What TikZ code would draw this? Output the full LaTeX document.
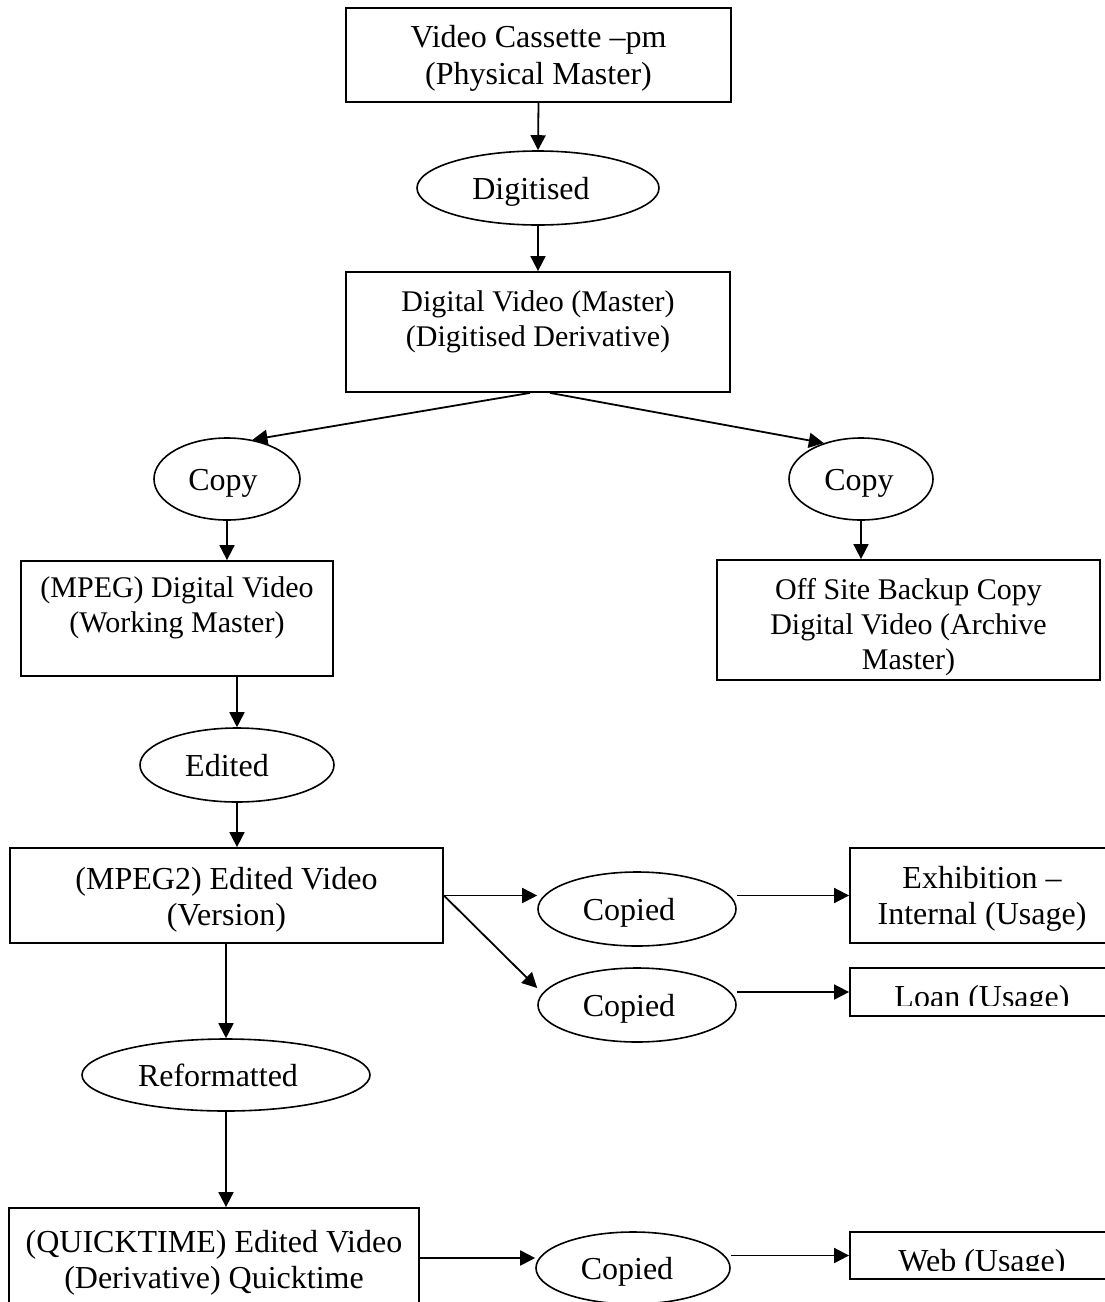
\documentclass[tikz,border=0pt]{standalone}
\usepackage{fontspec}
\setmainfont{Liberation Serif}
\usetikzlibrary{arrows.meta,shapes.geometric}
\newcommand\bigtext{\fontsize{32}{36}\selectfont}
\newcommand\smalltext{\fontsize{30}{35}\selectfont}
\begin{document}
\begin{tikzpicture}[x=1pt,y=-1pt,
  frame/.style={draw, line width=1.8pt, inner sep=0pt},
  oval/.style={ellipse, draw, line width=1.6pt, inner sep=0pt},
  olabel/.style={inner sep=0pt, anchor=base, font=\bigtext},
  txt/.style={align=center, inner sep=0pt, anchor=north, font=\smalltext},
  bigtxt/.style={txt, font=\bigtext},
  arr/.style={line width=1.8pt, -{Triangle[length=15pt,width=15pt]}}
]
\clip (0,0) rectangle (1105,1302);
\fill[white] (0,0) rectangle (1105,1302);

% boxes
\node[frame, minimum width=385pt, minimum height=94pt]  (vcass)   at (538.5,55)    {};
\node[frame, minimum width=384pt, minimum height=120pt] (digvid)  at (538,332)     {};
\node[frame, minimum width=312pt, minimum height=115pt] (mpeg)    at (177,618.5)   {};
\node[frame, minimum width=383pt, minimum height=120pt] (offsite) at (908.5,620)   {};
\node[frame, minimum width=433pt, minimum height=95pt]  (mpegtwo) at (226.5,895.5) {};
\node[frame, minimum width=264pt, minimum height=95pt]  (exhib)   at (982,895.5)   {};
\node[frame, minimum width=264pt, minimum height=48pt]  (loan)    at (982,992)     {};
\node[frame, minimum width=264pt, minimum height=47pt]  (web)     at (982,1255.5)  {};
\node[frame, minimum width=410pt, minimum height=100pt] (qt)      at (214,1258)    {};

% box texts
\node[bigtxt, font=\fontsize{32}{37}\selectfont] (vcasst) at (538.5,21.1)
  {\strut Video Cassette –pm\\(Physical Master)};
\node[txt]    (digvidt)  at (538,286.5)   {\strut Digital Video (Master)\\(Digitised Derivative)};
\node[txt]    (mpegt)    at (177,572.5)   {\strut (MPEG) Digital Video\\(Working Master)};
\node[txt]    (offsitet) at (908.5,574.5) {\strut Off Site Backup Copy\\Digital Video (Archive\\Master)};
\node[bigtxt] (mpegtwot) at (226.5,864.5) {\strut (MPEG2) Edited Video\\(Version)};
\node[bigtxt] (exhibt)   at (982,863.5)   {\strut Exhibition –\\Internal (Usage)};
\begin{scope}
  \clip (850,968) rectangle (1114,1005.8);
  \node[bigtxt] (loant) at (982,981.8) {\strut Loan (Usage)};
\end{scope}
\begin{scope}
  \clip (850,1232) rectangle (1114,1270);
  \node[bigtxt] (webt) at (982,1245.8) {\strut Web (Usage)};
\end{scope}
\node[bigtxt] (qtt) at (214,1226.8) {\strut (QUICKTIME) Edited Video\\(Derivative) Quicktime};

% process ellipses
\node[oval, minimum width=242pt, minimum height=74pt] (digitised) at (538,188)  {};
\node[oval, minimum width=146pt, minimum height=82pt] (copyl)     at (227,479)  {};
\node[oval, minimum width=144pt, minimum height=82pt] (copyr)     at (861,479)  {};
\node[oval, minimum width=194pt, minimum height=74pt] (edited)    at (237,765)  {};
\node[oval, minimum width=198pt, minimum height=74pt] (copieda)   at (637,909)  {};
\node[oval, minimum width=198pt, minimum height=74pt] (copiedb)   at (637,1005) {};
\node[oval, minimum width=288pt, minimum height=72pt] (reform)    at (226,1075) {};
\node[oval, minimum width=194pt, minimum height=72pt] (copiedc)   at (633,1268) {};

% ellipse labels, set slightly left of centre
\node[olabel] (digitisedt) at ([xshift=-7pt,yshift=-11pt]digitised.center) {Digitised};
\node[olabel] (copylt)     at ([xshift=-4pt,yshift=-11pt]copyl.center)     {Copy};
\node[olabel] (copyrt)     at ([xshift=-2pt,yshift=-11pt]copyr.center)     {Copy};
\node[olabel] (editedt)    at ([xshift=-10pt,yshift=-11pt]edited.center)   {Edited};
\node[olabel] (copiedat)   at ([xshift=-8pt,yshift=-11pt]copieda.center)   {Copied};
\node[olabel] (copiedbt)   at ([xshift=-8pt,yshift=-11pt]copiedb.center)   {Copied};
\node[olabel] (reformt)    at ([xshift=-8pt,yshift=-11pt]reform.center)    {Reformatted};
\node[olabel] (copiedct)   at ([xshift=-6pt,yshift=-11pt]copiedc.center)   {Copied};

% connectors
\draw[arr] (vcass.south) -- (digitised.north);
\draw[arr] (digitised.south) -- (digvid.north);
\draw[arr] ([xshift=-8pt]digvid.south) -- (copyl.57);
\draw[arr] ([xshift=12pt]digvid.south) -- (copyr.136);
\draw[arr] (copyl.south) -- (copyl.south |- mpeg.north);
\draw[arr] (copyr.south) -- (copyr.south |- offsite.north);
\draw[arr] (mpeg.south -| edited.north) -- (edited.north);
\draw[arr] (edited.south) -- (edited.south |- mpegtwo.north);
\draw[arr] (mpegtwo.east) -- (mpegtwo.east -| copieda.west);
\draw[arr] (mpegtwo.east) -- ([yshift=17pt]copiedb.west);
\draw[arr] (copieda.east |- exhib.west) -- (exhib.west);
\draw[arr] (copiedb.east |- loan.west) -- (loan.west);
\draw[arr] (reform.north |- mpegtwo.south) -- (reform.north);
\draw[arr] (reform.south) -- (reform.south |- qt.north);
\draw[arr] (qt.east) -- (qt.east -| copiedc.west);
\draw[arr] (copiedc.east |- web.west) -- (web.west);
\end{tikzpicture}
\end{document}
